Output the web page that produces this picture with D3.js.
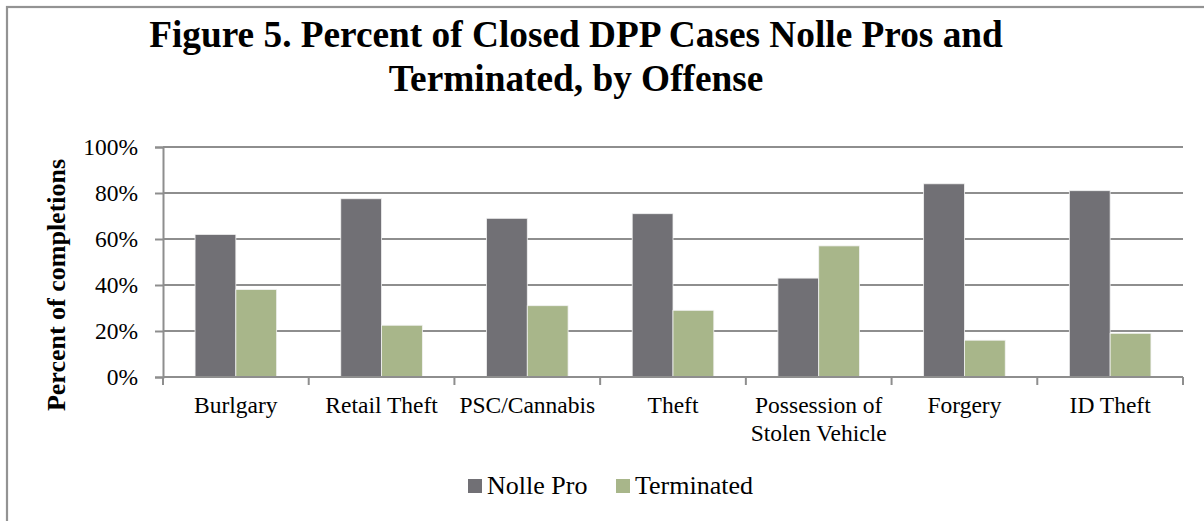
<!DOCTYPE html>
<html>
<head>
<meta charset="utf-8">
<script src="https://cdn.jsdelivr.net/npm/d3@7"></script>
<style>
  html, body { margin: 0; padding: 0; background: #fff; }
  svg { display: block; }
</style>
</head>
<body>
<svg id="chart" width="1204" height="521"></svg>
<script>
// Offense categories and the share of closed cases in each outcome (percent)
const categories = ["Burlgary", "Retail Theft", "PSC/Cannabis", "Theft", "Possession of\nStolen Vehicle", "Forgery", "ID Theft"];
const seriesNames = ["Nolle Pro", "Terminated"];
const nolleProValues = [62, 77.5, 69, 71, 43, 84, 81];
const terminatedValues = [38, 22.5, 31, 29, 57, 16, 19];
const yTicks = [0, 20, 40, 60, 80, 100];
const titleLines = ["Figure 5. Percent of Closed DPP Cases Nolle Pros and", "Terminated, by Offense"];
const yAxisTitle = "Percent of completions";

const FONT = "Liberation Serif";
const colors = { "Nolle Pro": "#717075", "Terminated": "#a8b68a" };
const gridColor = "#8e8e8e";

const svg = d3.select("#chart");

// outer chart frame (only top and left edges fall inside the page)
svg.append("rect")
  .attr("x", 7).attr("y", 7)
  .attr("width", 1260).attr("height", 600)
  .attr("fill", "none").attr("stroke", "#939393").attr("stroke-width", 2.2);

// title
svg.append("g").selectAll("text").data(titleLines).join("text")
  .attr("x", 576)
  .attr("y", (d, i) => 47 + i * 44)
  .attr("text-anchor", "middle")
  .attr("font-family", FONT)
  .attr("font-weight", "bold")
  .attr("font-size", 37.3)
  .attr("fill", "#000")
  .text(d => d);

const plot = { left: 163, right: 1183, top: 147, bottom: 377 };

const x0 = d3.scaleBand()
  .domain(categories)
  .range([plot.left, plot.right])
  .paddingInner(0.44)
  .paddingOuter(0.22);

const x1 = d3.scaleBand()
  .domain(seriesNames)
  .range([0, x0.bandwidth()]);

const y = d3.scaleLinear()
  .domain([0, 100])
  .range([plot.bottom, plot.top]);

// horizontal gridlines
svg.append("g").selectAll("line").data(yTicks.filter(t => t > 0)).join("line")
  .attr("x1", plot.left).attr("x2", plot.right)
  .attr("y1", d => y(d)).attr("y2", d => y(d))
  .attr("stroke", gridColor).attr("stroke-width", 2);

// y axis
const yAxis = d3.axisLeft(y)
  .tickValues(yTicks)
  .tickFormat(d => d + "%")
  .tickSize(8)
  .tickPadding(17);
const yg = svg.append("g")
  .attr("transform", `translate(${plot.left},0)`)
  .call(yAxis)
  .attr("font-family", FONT);
yg.select(".domain").attr("stroke", gridColor).attr("stroke-width", 2);
yg.selectAll(".tick line").attr("stroke", gridColor).attr("stroke-width", 2);
yg.selectAll(".tick text")
  .attr("font-family", FONT)
  .attr("font-size", 23.5).attr("fill", "#000");

// bars
const rows = categories.map((c, i) => ({
  category: c,
  values: [
    { key: "Nolle Pro", value: nolleProValues[i] },
    { key: "Terminated", value: terminatedValues[i] }
  ]
}));

svg.append("g").selectAll("g").data(rows).join("g")
  .attr("transform", d => `translate(${x0(d.category)},0)`)
  .selectAll("rect").data(d => d.values).join("rect")
    .attr("x", d => x1(d.key))
    .attr("width", x1.bandwidth())
    .attr("y", d => y(d.value))
    .attr("height", d => y(0) - y(d.value))
    .attr("fill", d => colors[d.key])
    .attr("stroke", "#f2f2f2")
    .attr("stroke-width", 0.8);

// x axis: baseline with tick marks at category boundaries
const step = x0.step();
const boundaries = [plot.left].concat(categories.map(c => x0(c) + x0.bandwidth() / 2 + step / 2));
const xg = svg.append("g");
xg.append("line")
  .attr("x1", plot.left).attr("x2", plot.right)
  .attr("y1", plot.bottom).attr("y2", plot.bottom)
  .attr("stroke", gridColor).attr("stroke-width", 2);
xg.selectAll("line.tick").data(boundaries).join("line")
  .attr("class", "tick")
  .attr("x1", d => d).attr("x2", d => d)
  .attr("y1", plot.bottom).attr("y2", plot.bottom + 8)
  .attr("stroke", gridColor).attr("stroke-width", 2);

// category labels (multi-line where needed)
const labels = xg.selectAll("text").data(categories).join("text")
  .attr("x", d => x0(d) + x0.bandwidth() / 2)
  .attr("y", 413)
  .attr("text-anchor", "middle")
  .attr("font-family", FONT)
  .attr("font-size", 23.5)
  .attr("fill", "#000");
labels.each(function(d) {
  const lines = d.split("\n");
  d3.select(this).selectAll("tspan").data(lines).join("tspan")
    .attr("x", x0(d) + x0.bandwidth() / 2)
    .attr("dy", (l, i) => i === 0 ? 0 : 28)
    .text(l => l);
});

// y axis title
svg.append("text")
  .attr("transform", `translate(65,${(plot.top + plot.bottom) / 2 + 23}) rotate(-90)`)
  .attr("text-anchor", "middle")
  .attr("font-family", FONT)
  .attr("font-weight", "bold")
  .attr("font-size", 26)
  .attr("fill", "#000")
  .text(yAxisTitle);

// legend
const legend = svg.append("g");
const legendItems = [
  { key: "Nolle Pro", x: 468 },
  { key: "Terminated", x: 616 }
];
legendItems.forEach(item => {
  legend.append("rect")
    .attr("x", item.x).attr("y", 479)
    .attr("width", 14).attr("height", 14)
    .attr("fill", colors[item.key]);
  legend.append("text")
    .attr("x", item.x + 19).attr("y", 494)
    .attr("font-family", FONT)
    .attr("font-size", 26)
    .attr("fill", "#000")
    .text(item.key);
});
</script>
</body>
</html>
